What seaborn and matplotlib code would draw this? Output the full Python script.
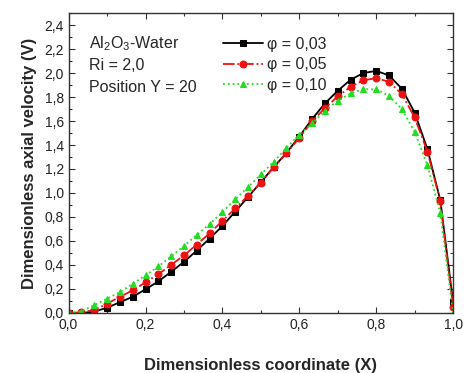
import numpy as np
import pandas as pd
import seaborn as sns
import matplotlib.pyplot as plt
from matplotlib.ticker import MultipleLocator, FuncFormatter

# Data (31 points, X step = 1/30)
x_coord = [i / 30 for i in range(31)]
v_003 = [0.0, 0.0, 0.01, 0.044, 0.089, 0.135, 0.197, 0.263, 0.343, 0.426,
         0.52, 0.62, 0.725, 0.845, 0.966, 1.09, 1.215, 1.335, 1.47, 1.617,
         1.747, 1.852, 1.944, 2.0, 2.018, 1.98, 1.87, 1.67, 1.365, 0.94, 0.09]
v_005 = [0.0, 0.005, 0.025, 0.077, 0.135, 0.188, 0.255, 0.324, 0.401, 0.479,
         0.57, 0.664, 0.767, 0.872, 0.977, 1.085, 1.215, 1.33, 1.46, 1.597,
         1.708, 1.805, 1.885, 1.94, 1.957, 1.927, 1.825, 1.63, 1.345, 0.933, 0.05]
v_010 = [0.0, 0.012, 0.066, 0.119, 0.174, 0.243, 0.313, 0.388, 0.471, 0.559,
         0.65, 0.742, 0.841, 0.947, 1.049, 1.155, 1.26, 1.376, 1.487, 1.58,
         1.686, 1.77, 1.83, 1.866, 1.863, 1.81, 1.70, 1.51, 1.23, 0.836, 0.0]
labels = ['\u03c6 = 0,03', '\u03c6 = 0,05', '\u03c6 = 0,10']

df = pd.DataFrame({'X': x_coord * 3,
                   'V': v_003 + v_005 + v_010,
                   'phi': [labels[0]] * 31 + [labels[1]] * 31 + [labels[2]] * 31})

sns.set_style('ticks')
plt.rcParams['font.family'] = ['Liberation Sans', 'DejaVu Sans']
plt.rcParams['mathtext.fontset'] = 'custom'
plt.rcParams['mathtext.rm'] = 'Liberation Sans'
plt.rcParams['mathtext.it'] = 'Liberation Sans'

fig = plt.figure(figsize=(4.7, 3.73), dpi=100)
ax = fig.add_axes([0.146, 0.161, 0.818, 0.804])

styles = {labels[0]: ('black', '-', 's'),
          labels[1]: ('#ee1111', '-.', 'o'),
          labels[2]: ('#22dd22', ':', '^')}
for lab in labels:
    c, ls, mk = styles[lab]
    sub = df[df['phi'] == lab]
    sns.lineplot(data=sub, x='X', y='V', ax=ax, color=c, linestyle=ls,
                 marker=mk, markersize=5, markeredgecolor=c, linewidth=1.3,
                 label=lab)

ax.set_xlim(0, 1.0)
ax.set_ylim(0, 2.5)
ax.xaxis.set_major_locator(MultipleLocator(0.2))
ax.xaxis.set_minor_locator(MultipleLocator(0.1))
ax.yaxis.set_major_locator(MultipleLocator(0.2))
ax.yaxis.set_minor_locator(MultipleLocator(0.1))
comma = FuncFormatter(lambda v, p: f'{v:.1f}'.replace('.', ','))
ax.xaxis.set_major_formatter(comma)
ax.yaxis.set_major_formatter(comma)
ax.tick_params(which='both', direction='in', top=True, right=True,
               labelsize=10, colors='#333333', labelcolor='#222222')
ax.tick_params(which='major', length=4, width=0.8)
ax.tick_params(which='minor', length=2.5, width=0.8)
for s in ax.spines.values():
    s.set_color('#333333')
    s.set_linewidth(1.0)

ax.set_xlabel('Dimensionless coordinate (X)', fontsize=12, fontweight='bold',
              labelpad=19)
ax.set_ylabel('Dimensionless axial velocity (V)', fontsize=12, fontweight='bold',
              labelpad=5)

ax.text(0.052, 0.898, 'Al$_2$O$_3$-Water', transform=ax.transAxes,
        fontsize=11.5, va='center')
ax.text(0.052, 0.825, 'Ri = 2,0', transform=ax.transAxes, fontsize=11.5, va='center')
ax.text(0.052, 0.752, 'Position Y = 20', transform=ax.transAxes, fontsize=11.5, va='center')

ax.legend(loc='upper left', bbox_to_anchor=(0.386, 0.942), frameon=False,
          fontsize=11.5, handlelength=2.5, handletextpad=0.25, labelspacing=0.35,
          borderaxespad=0)

fig.savefig('out.png', dpi=100)
